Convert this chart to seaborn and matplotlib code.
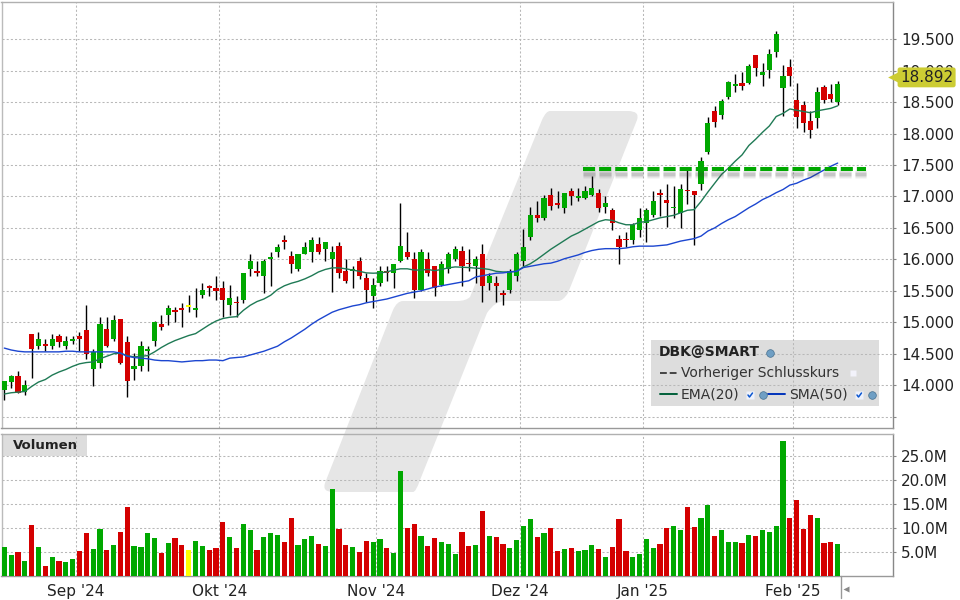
import numpy as np
import pandas as pd
import seaborn as sns
import matplotlib.pyplot as plt
from matplotlib.path import Path
from matplotlib.patches import PathPatch, Rectangle

# Candles
open_ = [13.93, 14.05, 14.14, 13.90, 14.81, 14.63, 14.66, 14.63, 14.78, 14.63, 14.70, 14.78, 14.87, 14.25, 14.35,
         14.90, 14.73, 15.05, 14.68, 14.25, 14.30, 14.54, 14.70, 14.97, 15.12, 15.19, 15.22, 15.24, 15.19, 15.43,
         15.57, 15.54, 15.55, 15.28, 15.33, 15.36, 15.85, 15.82, 15.74, 16.00, 16.11, 16.31, 16.06, 15.85, 16.09,
         16.11, 16.24, 16.16, 16.00, 16.22, 15.81, 15.81, 15.97, 15.71, 15.41, 15.62, 15.81, 15.78, 15.97, 16.12,
         16.01, 15.52, 16.01, 15.89, 15.60, 15.84, 16.00, 16.14, 15.95, 15.89, 16.08, 15.62, 15.62, 15.47, 15.51,
         15.73, 15.98, 16.35, 16.70, 16.65, 17.03, 16.90, 16.81, 17.08, 16.98, 16.97, 17.03, 17.06, 16.84, 16.78,
         16.33, 16.33, 16.30, 16.46, 16.58, 16.71, 17.06, 16.95, 16.81, 16.73, 17.11, 17.08, 17.19, 17.70, 18.36,
         18.30, 18.58, 18.76, 18.81, 18.81, 19.24, 18.93, 19.01, 19.30, 18.73, 19.06, 18.54, 18.46, 18.20, 18.24,
         18.74, 18.62, 18.50]
high = [14.06, 14.16, 14.22, 14.09, 14.81, 14.84, 14.73, 14.81, 14.82, 14.79, 14.79, 14.84, 15.27, 14.57, 15.09,
        15.08, 15.12, 15.06, 14.79, 14.51, 14.71, 14.62, 15.02, 15.11, 15.27, 15.25, 15.30, 15.43, 15.55, 15.62,
        15.60, 15.73, 15.65, 15.60, 15.41, 15.79, 16.08, 15.97, 16.01, 16.12, 16.25, 16.39, 16.14, 16.08, 16.28,
        16.35, 16.35, 16.28, 16.22, 16.27, 16.00, 15.89, 16.03, 15.79, 15.71, 15.90, 15.90, 15.92, 16.90, 16.44,
        16.11, 16.17, 16.11, 15.89, 15.98, 16.12, 16.22, 16.22, 16.16, 16.05, 16.25, 15.78, 15.74, 15.51, 15.84,
        16.11, 16.49, 16.84, 16.93, 17.03, 17.14, 17.09, 17.06, 17.14, 17.14, 17.16, 17.32, 17.12, 17.01, 16.81,
        16.38, 16.44, 16.58, 16.81, 16.81, 17.08, 17.12, 17.20, 17.16, 17.19, 17.44, 17.08, 17.62, 18.27, 18.44,
        18.55, 18.84, 18.95, 18.98, 19.11, 19.24, 19.12, 19.35, 19.63, 19.09, 19.19, 18.81, 18.52, 18.35, 18.74,
        18.77, 18.79, 18.84]
low = [13.76, 13.96, 13.88, 13.84, 14.11, 14.58, 14.55, 14.57, 14.60, 14.58, 14.66, 14.55, 14.41, 13.99, 14.27,
       14.60, 14.70, 14.33, 13.81, 14.09, 14.22, 14.23, 14.63, 14.87, 14.95, 15.01, 14.92, 15.17, 15.08, 15.38,
       15.41, 15.35, 15.09, 15.12, 15.08, 15.30, 15.74, 15.73, 15.46, 15.57, 16.04, 16.17, 15.79, 15.82, 16.08,
       15.96, 16.09, 15.98, 15.48, 15.71, 15.63, 15.55, 15.68, 15.33, 15.22, 15.58, 15.66, 15.54, 15.96, 16.00,
       15.38, 15.50, 15.73, 15.41, 15.58, 15.79, 15.98, 15.57, 15.82, 15.62, 15.33, 15.52, 15.33, 15.28, 15.46,
       15.65, 15.89, 16.31, 16.60, 16.62, 16.79, 16.82, 16.74, 16.87, 16.92, 16.96, 17.01, 16.76, 16.73, 16.47,
       15.92, 16.20, 16.25, 16.35, 16.28, 16.68, 16.69, 16.52, 16.66, 16.50, 16.88, 16.23, 17.11, 17.68, 18.11,
       18.23, 18.55, 18.66, 18.69, 18.79, 18.92, 18.76, 18.88, 19.22, 18.28, 18.76, 18.09, 18.03, 17.93, 18.08,
       18.49, 18.50, 18.46]
close = [14.06, 14.14, 13.88, 14.01, 14.57, 14.73, 14.63, 14.73, 14.68, 14.70, 14.73, 14.74, 14.50, 14.52, 14.98,
         14.63, 15.03, 14.36, 14.06, 14.30, 14.62, 14.57, 15.01, 14.93, 15.22, 15.16, 15.19, 15.27, 15.22, 15.52,
         15.54, 15.49, 15.36, 15.38, 15.30, 15.79, 15.97, 15.79, 15.98, 16.03, 16.19, 16.28, 15.93, 16.08, 16.19,
         16.30, 16.12, 16.28, 16.11, 15.78, 15.66, 15.85, 15.73, 15.51, 15.60, 15.82, 15.79, 15.92, 16.22, 16.03,
         15.52, 16.12, 15.78, 15.55, 15.93, 16.08, 16.17, 15.89, 15.92, 16.01, 15.57, 15.74, 15.57, 15.44, 15.81,
         16.08, 16.20, 16.70, 16.66, 16.98, 16.85, 16.87, 17.06, 17.01, 17.01, 17.08, 17.14, 16.82, 16.90, 16.58,
         16.20, 16.30, 16.54, 16.65, 16.79, 16.92, 17.03, 16.89, 16.84, 17.12, 17.08, 17.03, 17.57, 18.16, 18.19,
         18.52, 18.82, 18.79, 18.76, 19.08, 19.04, 18.97, 19.27, 19.58, 18.92, 18.92, 18.27, 18.16, 18.06, 18.66,
         18.54, 18.55, 18.79]
unchanged_bar = 27

ema20 = [13.86, 13.88, 13.89, 13.90, 13.98, 14.05, 14.09, 14.16, 14.21, 14.25, 14.30, 14.34, 14.36, 14.37, 14.42,
         14.46, 14.50, 14.51, 14.47, 14.45, 14.46, 14.47, 14.53, 14.60, 14.66, 14.71, 14.75, 14.79, 14.82, 14.89,
         14.96, 15.02, 15.06, 15.08, 15.09, 15.19, 15.27, 15.33, 15.37, 15.43, 15.52, 15.58, 15.62, 15.65, 15.69,
         15.74, 15.80, 15.84, 15.865, 15.865, 15.85, 15.83, 15.81, 15.785, 15.78, 15.785, 15.80, 15.83, 15.85, 15.85,
         15.83, 15.83, 15.84, 15.82, 15.84, 15.865, 15.88, 15.875, 15.87, 15.86, 15.855, 15.84, 15.81, 15.80, 15.80,
         15.81, 15.88, 15.93, 16.00, 16.08, 16.16, 16.23, 16.30, 16.37, 16.42, 16.48, 16.54, 16.60, 16.63, 16.62,
         16.58, 16.55, 16.55, 16.59, 16.60, 16.63, 16.66, 16.68, 16.70, 16.74, 16.78, 16.79, 16.92, 17.07, 17.21,
         17.35, 17.45, 17.56, 17.66, 17.81, 17.91, 18.02, 18.12, 18.27, 18.32, 18.39, 18.37, 18.35, 18.33, 18.36,
         18.38, 18.40, 18.44]
sma50 = [14.59, 14.56, 14.54, 14.53, 14.53, 14.53, 14.53, 14.53, 14.53, 14.54, 14.54, 14.53, 14.53, 14.53, 14.53,
         14.53, 14.53, 14.51, 14.46, 14.44, 14.43, 14.42, 14.40, 14.39, 14.39, 14.38, 14.37, 14.38, 14.39, 14.39,
         14.40, 14.40, 14.39, 14.43, 14.44, 14.45, 14.48, 14.51, 14.54, 14.58, 14.62, 14.69, 14.75, 14.82, 14.89,
         14.97, 15.04, 15.10, 15.16, 15.20, 15.23, 15.26, 15.28, 15.31, 15.33, 15.35, 15.37, 15.40, 15.43, 15.46,
         15.48, 15.50, 15.53, 15.56, 15.58, 15.60, 15.62, 15.64, 15.66, 15.72, 15.74, 15.76, 15.78, 15.785, 15.80,
         15.81, 15.87, 15.89, 15.91, 15.93, 15.94, 15.97, 16.01, 16.04, 16.07, 16.11, 16.14, 16.16, 16.17, 16.17,
         16.17, 16.18, 16.20, 16.21, 16.21, 16.21, 16.22, 16.23, 16.26, 16.29, 16.31, 16.33, 16.37, 16.45, 16.50,
         16.57, 16.63, 16.68, 16.75, 16.82, 16.88, 16.95, 17.00, 17.06, 17.11, 17.18, 17.21, 17.26, 17.30, 17.36,
         17.42, 17.48, 17.53]
volume = [6.0, 4.4, 5.0, 3.1, 10.6, 6.0, 2.1, 3.9, 3.1, 2.9, 3.5, 5.2, 8.9, 5.6, 9.8,
          5.4, 6.4, 9.1, 14.3, 6.2, 6.0, 8.9, 7.9, 4.8, 6.9, 7.9, 6.4, 5.4, 7.3, 6.2,
          5.4, 5.8, 11.2, 8.1, 5.8, 10.8, 9.6, 5.4, 8.1, 8.9, 8.5, 7.1, 12.0, 6.4, 7.7,
          8.3, 6.6, 6.2, 18.1, 9.8, 6.4, 6.0, 5.0, 7.3, 7.1, 7.7, 5.8, 4.8, 21.8, 10.0,
          10.8, 8.3, 6.2, 7.9, 7.1, 6.6, 4.6, 9.1, 6.2, 6.4, 13.5, 8.3, 8.1, 6.6, 5.8,
          7.5, 10.4, 11.8, 8.1, 8.9, 10.0, 5.2, 5.6, 5.8, 5.2, 5.4, 6.4, 5.6, 3.9, 6.0,
          11.8, 5.2, 3.9, 4.6, 7.7, 5.8, 6.6, 10.0, 10.4, 9.6, 14.3, 10.2, 12.0, 14.7, 8.3,
          9.6, 7.1, 7.1, 6.9, 8.5, 8.3, 9.6, 9.1, 10.4, 28.0, 12.0, 15.8, 9.8, 12.7, 12.0,
          6.9, 7.1, 6.6]

month_bars = [11, 32, 55, 76, 94, 116]
month_labels = ["Sep '24", "Okt '24", "Nov '24", "Dez '24", "Jan '25", "Feb '25"]
price_ticks = [14.0, 14.5, 15.0, 15.5, 16.0, 16.5, 17.0, 17.5, 18.0, 18.5, 19.0, 19.5]
grid_only_prices = [13.5]
volume_ticks = [5, 10, 15, 20, 25]
last_price = 18.892
support_level = 17.43
support_bars = [84.7, 126.2]

GREEN = '#00a800'
RED = '#d40000'
YELLOW = '#ffff00'
GRID = '#b8b8b8'
TEXT = '#222222'

sns.set_style("white")
plt.rcParams['font.family'] = 'DejaVu Sans'
W, H = 960, 600


def px_axes(fig, left, top, right, bottom, **kwargs):
    """ Axes placed by its pixel edges, counted from the top left """
    return fig.add_axes([left / W, 1 - bottom / H, (right - left) / W, (bottom - top) / H], **kwargs)


def watermark_path():
    """ Rounded slanted logo behind both panels, in pixels """
    corners = [(550, 111), (628, 111), (637, 120), (568, 293), (558, 301), (505, 301), (487, 313),
               (420, 480), (413, 492), (333, 492), (325, 483), (393, 310), (403, 301), (457, 301),
               (470, 297), (542, 120)]
    verts = [corners[0], corners[1], (640, 111), corners[2], corners[3], (563, 301), corners[4],
             corners[5], (495, 301), corners[6], corners[7], (416, 492), corners[8], corners[9],
             (322, 492), corners[10], corners[11], (397, 301), corners[12], corners[13],
             (466, 301), corners[14], corners[15], (546, 111), corners[0], corners[0]]
    codes = [Path.MOVETO, Path.LINETO, Path.CURVE3, Path.CURVE3, Path.LINETO, Path.CURVE3, Path.CURVE3,
             Path.LINETO, Path.CURVE3, Path.CURVE3, Path.LINETO, Path.CURVE3, Path.CURVE3, Path.LINETO,
             Path.CURVE3, Path.CURVE3, Path.LINETO, Path.CURVE3, Path.CURVE3, Path.LINETO,
             Path.CURVE3, Path.CURVE3, Path.LINETO, Path.CURVE3, Path.CURVE3, Path.CLOSEPOLY]
    return Path(verts, codes)


def style_panel(ax, xlim, ylim, yticks, yticklabels):
    ax.patch.set_alpha(0)
    ax.set_xlim(xlim)
    ax.set_ylim(ylim)
    ax.set_xlabel('')
    ax.set_ylabel('')
    ax.yaxis.tick_right()
    ax.set_yticks(yticks)
    ax.set_yticklabels(yticklabels, fontsize=11, color=TEXT)
    ax.set_xticks(np.array(month_bars) - 0.55)
    ax.grid(True, color=GRID, linestyle=(0, (2, 2)), linewidth=0.75)
    ax.set_axisbelow(True)
    ax.tick_params(axis='y', length=2, width=0.8, color='#888888', pad=4)
    ax.tick_params(axis='x', length=2, width=0.8, color='#888888', pad=3.5)
    for side, color in (('left', '#bbbbbb'), ('top', '#b0b0b0'), ('right', '#888888'), ('bottom', '#999999')):
        ax.spines[side].set_visible(True)
        ax.spines[side].set_color(color)
        ax.spines[side].set_linewidth(1.0)


fig = plt.figure(figsize=(W / 100, H / 100), dpi=100, facecolor='white')

# Background layer: logo and legend plate sit behind the grid
back = px_axes(fig, 0, 0, W, H, zorder=-1)
back.set_xlim(0, W)
back.set_ylim(H, 0)
back.axis('off')
back.add_patch(PathPatch(watermark_path(), facecolor='#e6e6e6', edgecolor='none'))
back.add_patch(Rectangle((651, 340), 228, 66, facecolor='#dddddd', edgecolor='none'))
back.add_patch(Rectangle((3, 435), 84, 21, facecolor='#dddddd', edgecolor='none'))

bars = np.arange(len(close))
xlim = (-0.41, 130.1)

# Price panel
ax1 = px_axes(fig, 1.5, 2, 893, 428)
colors = [YELLOW if i == unchanged_bar else GREEN if c >= o else RED for i, (o, c) in enumerate(zip(open_, close))]
ax1.vlines(bars, low, high, color='black', linewidth=1.0, zorder=3)
ax1.bar(bars, np.abs(np.array(close) - np.array(open_)), bottom=np.minimum(open_, close), width=0.76,
        color=colors, linewidth=0, zorder=4)
sns.lineplot(x=bars, y=ema20, color='#1f7a55', linewidth=1.0, ax=ax1, zorder=5)
sns.lineplot(x=bars, y=sma50, color='#1c46d0', linewidth=1.0, ax=ax1, zorder=5)

# Hand drawn support line with its soft shadow
for width, alpha, drop in ((9.0, 0.05, 0.07), (7.0, 0.07, 0.07), (5.0, 0.09, 0.075), (3.0, 0.12, 0.08)):
    ax1.plot(support_bars, [support_level - drop] * 2, color='#444444', alpha=alpha, linewidth=width * 0.72,
             dashes=(12 / width, 4 / width), dash_capstyle='butt', zorder=5.5)
ax1.plot(support_bars, [support_level] * 2, color=GREEN, linewidth=2.9, dashes=(3, 1), dash_capstyle='butt', zorder=6)

style_panel(ax1, xlim, (13.32, 20.09), grid_only_prices + price_ticks, [''] + [f'{p:.3f}' for p in price_ticks])
ax1.set_xticklabels([])

# Last price tag
tag_transform = ax1.get_yaxis_transform()
ax1.scatter([1.0], [last_price], marker='<', s=60, color='#cccc33', linewidth=0, clip_on=False,
            transform=tag_transform, zorder=7)
ax1.text(1.0079, last_price, f'{last_price:.3f}', transform=tag_transform, fontsize=11, color=TEXT, va='center',
         ha='left', clip_on=False, zorder=8,
         bbox=dict(boxstyle='round,pad=0.16,rounding_size=0.15', facecolor='#cccc33', edgecolor='none'))

# Volume panel
ax2 = px_axes(fig, 1.5, 433.5, 893, 576)
frame = pd.DataFrame({'bar': bars, 'volume': volume, 'kind': [str(c) for c in colors]})
sns.barplot(data=frame, x='bar', y='volume', hue='kind', palette={c: c for c in colors}, native_scale=True,
            dodge=False, width=0.76, legend=False, linewidth=0, saturation=1, ax=ax2, zorder=3)
style_panel(ax2, xlim, (0, 29.6), volume_ticks, [f'{v:.1f}M' for v in volume_ticks])
ax2.set_xticklabels(month_labels, fontsize=11, color=TEXT)

# Overlay in pixels: legend contents and small furniture
top = px_axes(fig, 0, 0, W, H, zorder=10)
top.patch.set_alpha(0)
top.set_xlim(0, W)
top.set_ylim(H, 0)
top.axis('off')
top.text(45, 445.5, 'Volumen', fontsize=9.5, fontweight='bold', color=TEXT, ha='center', va='center')
top.text(659, 352.5, 'DBK@SMART', fontsize=10, fontweight='bold', color=TEXT, va='center')
top.text(681, 373, 'Vorheriger Schlusskurs', fontsize=10, color='#333333', va='center')
top.text(681, 395, 'EMA(20)', fontsize=10, color='#333333', va='center')
top.text(789, 395, 'SMA(50)', fontsize=10, color='#333333', va='center')
top.plot([660, 677], [372.5, 372.5], color='#444444', linewidth=1.4, dashes=(3.5, 1.5))
top.plot([660, 677], [394, 394], color='#00603a', linewidth=1.4)
top.plot([768, 785], [394, 394], color='#0033bb', linewidth=1.4)
for x, y in ((770, 353), (763, 395), (872, 395)):
    top.plot([x], [y], 'o', markersize=5.5, markerfacecolor='#6f9fc4', markeredgecolor='#47708f', markeredgewidth=0.5)
for x in (750, 859):
    top.plot([x], [395], 's', markersize=5.5, markerfacecolor='#eef2fb', markeredgecolor='none')
    top.plot([x - 2, x - 0.5, x + 2.5], [395, 397, 393], color='#0a55d0', linewidth=1.1)
top.plot([853], [373], 's', markersize=5, markerfacecolor='#f2f2fa', markeredgecolor='none')
top.plot([840.5, 840.5], [576, 598], color='#999999', linewidth=1.0)
top.plot([846], [589], '<', markersize=5, color='#888888', markeredgecolor='none')

fig.savefig('out.png', dpi=100)
